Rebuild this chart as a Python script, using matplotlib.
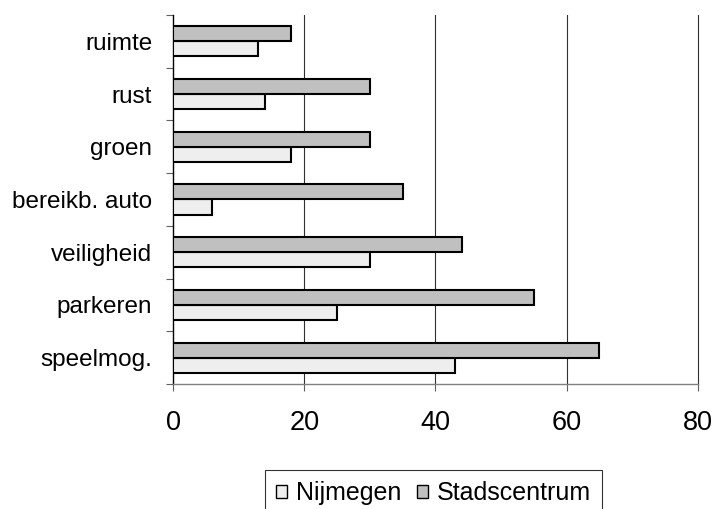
import numpy as np
import matplotlib.pyplot as plt

plt.rcParams["font.family"] = ["Liberation Sans", "DejaVu Sans"]

categories = ["speelmog.", "parkeren", "veiligheid", "bereikb. auto", "groen", "rust", "ruimte"]
nijmegen = [43, 25, 30, 6, 18, 14, 13]
stadscentrum = [65, 55, 44, 35, 30, 30, 18]
x_ticks = [0, 20, 40, 60, 80]

fig = plt.figure(figsize=(7.15, 5.09), dpi=100)
ax = fig.add_axes([0.242, 0.2456, 0.734, 0.725])

y = np.arange(len(categories))
h = 0.285
ax.barh(y - h / 2, nijmegen, height=h, color="#eeeeee",
        edgecolor="black", linewidth=1.5, label="Nijmegen", zorder=3)
ax.barh(y + h / 2, stadscentrum, height=h, color="#c0c0c0",
        edgecolor="black", linewidth=1.5, label="Stadscentrum", zorder=3)

ax.set_xlim(0, 80)
ax.set_ylim(-0.5, len(categories) - 0.5)

# vertical gridlines, the last one sits on the right edge
for v in x_ticks[1:]:
    ax.axvline(v, color="#303030", linewidth=0.8, zorder=1, clip_on=False)

for side in ["top", "right"]:
    ax.spines[side].set_visible(False)
ax.spines["left"].set_color("black")
ax.spines["left"].set_linewidth(1.0)
ax.spines["bottom"].set_color("#808080")
ax.spines["bottom"].set_linewidth(1.0)

ax.set_xticks(x_ticks)
ax.set_xticklabels([str(v) for v in x_ticks], fontsize=19.5)
ax.tick_params(axis="x", direction="out", length=5, width=0.8,
               color="#606060", pad=14)

ax.set_yticks(y)
ax.set_yticklabels(categories, fontsize=17.5)
ax.tick_params(axis="y", which="major", length=0, pad=15)
ax.set_yticks(np.arange(-0.5, len(categories)), minor=True)
ax.tick_params(axis="y", which="minor", direction="out", length=5,
               width=0.8, color="#606060")

leg = fig.legend(loc="upper left", bbox_to_anchor=(265 / 715, 1 - 470 / 509),
                 ncol=2, fontsize=18, frameon=True, fancybox=False,
                 handlelength=0.42, handleheight=0.42, handletextpad=0.35,
                 columnspacing=0.65, borderpad=0.45, borderaxespad=0)
leg.get_frame().set_edgecolor("black")
leg.get_frame().set_linewidth(0.8)
for patch in leg.get_patches():
    patch.set_linewidth(1.0)

fig.savefig("out.png", dpi=100)
